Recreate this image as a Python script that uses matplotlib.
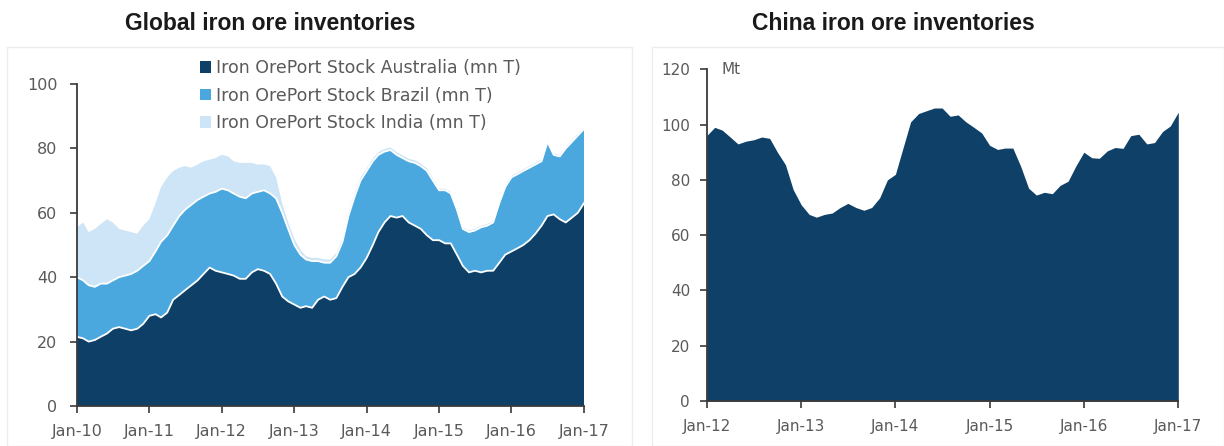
import matplotlib
matplotlib.use("Agg")
import matplotlib.pyplot as plt
import matplotlib.patches as mpatches
import matplotlib.dates as mdates
import pandas as pd
import numpy as np

# ---------------- data ----------------
# Global port stocks, monthly Jan-2010 .. Jan-2017 (mn T)
australia = [21.5, 21, 20, 20.5, 21.5, 22.5, 24, 24.5, 24, 23.5, 24, 25.5,
             28, 28.5, 27.5, 29, 33, 34.5, 36, 37.5, 39, 41, 43, 42,
             41.5, 41, 40.5, 39.5, 39.5, 41.5, 42.5, 42, 41, 38, 34, 32.5,
             31.5, 30.5, 31, 30.5, 33, 34, 33, 33.5, 37, 40, 41, 43,
             46, 50, 54, 57, 59, 58.5, 59, 57, 56, 55, 53, 51.5,
             51.5, 50.5, 50.5, 47, 43.5, 41.5, 42, 41.5, 42, 42, 44.5, 47,
             48, 49, 50, 51.5, 53.5, 56, 59, 59.5, 58, 57, 58.5, 60,
             63]
brazil = [18.5, 18, 17.5, 16.5, 16.5, 15.5, 15, 15.5, 16.5, 17.5, 18, 18,
          17, 19.5, 23.5, 24, 23, 24.5, 25, 25, 25, 24, 23, 24.5,
          26, 26, 25.5, 25.5, 25, 24.5, 24, 25, 25, 26.5, 26, 22.5,
          18.5, 16.5, 14.5, 14.5, 12, 10.5, 11.5, 13, 14, 19, 24, 27,
          27, 26, 24, 22, 20.5, 19.5, 18, 19, 19.5, 19.5, 20, 18.5,
          15.5, 16.5, 15.5, 14, 11.5, 12.5, 12.5, 14, 14, 15, 18.5, 21,
          23, 23, 23, 22.5, 21.5, 20, 23, 18.5, 19.5, 23, 23.5, 24,
          23]
india = [15.5, 18, 16.5, 18, 18.5, 20, 18, 15, 14, 13, 11.5, 12.5,
         13, 15, 17, 18, 17, 15, 13.5, 11.5, 11, 11, 10.5, 10.5,
         10.5, 10.5, 10, 10.5, 11, 9.5, 8.5, 8, 8.5, 6.5, 3, 2,
         2, 1.5, 1, 1, 1, 1, 1, 1, 1, 1, 1, 1,
         0.8, 0.8, 0.8, 0.8, 0.8, 0.8, 0.8, 0.8, 0.8, 0.8, 0.8, 0.8,
         0.5, 0.5, 0.5, 0.5, 0.5, 0.5, 0.5, 0.5, 0.5, 0.5, 0.5, 0.5,
         0.5, 0.5, 0.5, 0.5, 0.5, 0.5, 0.5, 0.5, 0.5, 0.5, 0.5, 0.5,
         0.5]
global_dates = pd.date_range("2010-01-01", periods=len(australia), freq="MS")

# China port inventories, monthly Jan-2012 .. Jan-2017 (Mt)
china = [96, 99, 98, 95.5, 93, 94, 94.5, 95.5, 95, 90, 85.5, 76.5,
         71, 67.5, 66.5, 67.5, 68, 70, 71.5, 70, 69, 70, 73.5, 80,
         82, 92, 101, 104, 105, 106, 106, 103, 103.5, 101, 99, 97,
         92.5, 91, 91.5, 91.5, 85, 77, 74.5, 75.5, 75, 78, 79.5, 85,
         90, 88, 87.8, 90.5, 91.7, 91.4, 96, 96.5, 93, 93.5, 97.5, 99.5,
         104.5]
china_dates = pd.date_range("2012-01-01", periods=len(china), freq="MS")

legend_labels = ["Iron OrePort Stock Australia (mn T)",
                 "Iron OrePort Stock Brazil (mn T)",
                 "Iron OrePort Stock India (mn T)"]
titles = ["Global iron ore inventories", "China iron ore inventories"]

# ---------------- style ----------------
C_AUS = "#0e3f66"
C_BRA = "#4aa8de"
C_IND = "#cde5f6"
C_CHN = "#0f4067"
TICK_COL = "#5a5a5a"
SPINE_COL = "#3a3a3a"
FONT = "DejaVu Sans"

W, H = 1224, 446
fig = plt.figure(figsize=(W / 100, H / 100), dpi=100)

# panel frames
for x0, x1 in [(7, 632), (652, 1224)]:
    fig.patches.append(mpatches.Rectangle((x0 / W, 0), (x1 - x0) / W, 1 - 47 / H,
                                          transform=fig.transFigure, fill=False,
                                          edgecolor="#ececec", linewidth=1.0))

fig.text(270 / W, 1 - 23 / H, titles[0], ha="center", va="center",
         fontsize=16.5, fontweight="bold", family="Liberation Sans", color="#1a1a1a")
fig.text(893 / W, 1 - 23 / H, titles[1], ha="center", va="center",
         fontsize=16.5, fontweight="bold", family="Liberation Sans", color="#1a1a1a")


def style_axes(ax, size):
    for s in ["top", "right"]:
        ax.spines[s].set_visible(False)
    for s in ["left", "bottom"]:
        ax.spines[s].set_color(SPINE_COL)
        ax.spines[s].set_linewidth(1.3)
    ax.tick_params(axis="both", direction="out", length=5, width=1.2,
                   color=SPINE_COL, labelcolor=TICK_COL, labelsize=size)
    for lab in ax.get_xticklabels() + ax.get_yticklabels():
        lab.set_family(FONT)


# ---------------- left chart ----------------
ax1 = fig.add_axes([77 / W, 1 - 406 / H, (584 - 77) / W, (406 - 84) / H])
a = np.array(australia)
b = np.array(brazil)
i = np.array(india)
ax1.stackplot(global_dates, a, b, i, colors=[C_AUS, C_BRA, C_IND], linewidth=0)
ax1.plot(global_dates, a, color="white", lw=1.3)
ax1.plot(global_dates, a + b, color="white", lw=1.3)
ax1.set_ylim(0, 100)
ax1.set_xlim(global_dates[0], global_dates[-1])
ax1.set_yticks(range(0, 101, 20))
ax1.set_xticks(pd.date_range("2010-01-01", "2017-01-01", freq="YS"))
ax1.xaxis.set_major_formatter(mdates.DateFormatter("%b-%y"))
style_axes(ax1, 11.5)
ax1.tick_params(axis="x", pad=8)
ax1.tick_params(axis="y", pad=9)

handles = [mpatches.Patch(facecolor=c, edgecolor="none") for c in [C_AUS, C_BRA, C_IND]]
leg = fig.legend(handles, legend_labels, loc="upper left",
                 bbox_to_anchor=(200 / W, 1 - 59 / H), frameon=False,
                 prop={"family": FONT, "size": 12.5}, handlelength=0.65,
                 handleheight=0.65, handletextpad=0.25, labelspacing=0.55,
                 borderpad=0, borderaxespad=0)
for t in leg.get_texts():
    t.set_color(TICK_COL)

# ---------------- right chart ----------------
ax2 = fig.add_axes([706.7 / W, 1 - 401 / H, (1178.3 - 706.7) / W, (401 - 69.3) / H])
ax2.fill_between(china_dates, 0, china, color=C_CHN, linewidth=0)
ax2.set_ylim(0, 120)
ax2.set_xlim(china_dates[0], china_dates[-1])
ax2.set_yticks(range(0, 121, 20))
ax2.set_xticks(pd.date_range("2012-01-01", "2017-01-01", freq="YS"))
ax2.xaxis.set_major_formatter(mdates.DateFormatter("%b-%y"))
style_axes(ax2, 11)
ax2.tick_params(axis="x", pad=8)
ax2.tick_params(axis="y", pad=7)
ax2.text(0.032, 1.0, "Mt", transform=ax2.transAxes, ha="left", va="center",
         fontsize=11, family=FONT, color=TICK_COL)

fig.savefig("out.png", dpi=100, facecolor="white")
